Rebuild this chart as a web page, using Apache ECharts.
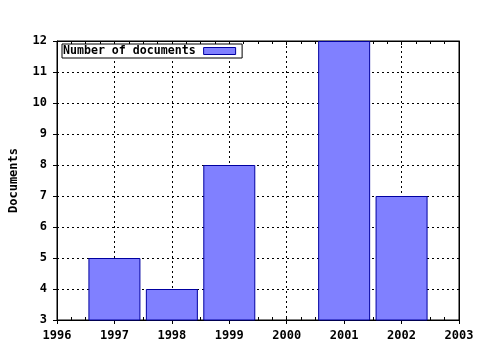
<!DOCTYPE html>
<html><head><meta charset="utf-8">
<script src="https://cdn.jsdelivr.net/npm/echarts@6/dist/echarts.min.js"></script>
<style>html,body{margin:0;padding:0;background:#fff}#c{width:480px;height:350px}</style>
</head><body><div id="c"></div>
<script>
const years = [1997, 1998, 1999, 2001, 2002];
const documents = [5, 4, 8, 12, 7];
const seriesName = 'Number of documents';
const yTitle = 'Documents';

const FONT = 'DejaVu Sans Mono';
const chart = echarts.init(document.getElementById('c'), null, {renderer: 'canvas'});
const dotted = {color: '#000', width: 1, type: [2, 3]};
const blackLine = {show: true, onZero: false, lineStyle: {color: '#000', width: 1}};
chart.setOption({
  animation: false,
  backgroundColor: '#fff',
  grid: {left: 57, right: 21, top: 41, bottom: 30, show: true, borderColor: '#000', borderWidth: 1,
    containLabel: false, outerBoundsMode: 'none'},
  legend: {
    left: 62, top: 44, orient: 'horizontal', align: 'right',
    itemWidth: 32, itemHeight: 7, itemGap: 0,
    padding: [1, 6, 1, 1],
    borderColor: '#000', borderWidth: 1, backgroundColor: '#fff',
    itemStyle: {borderWidth: 1, borderColor: '#0000a0', color: '#8080ff'},
    textStyle: {fontFamily: FONT, fontWeight: 'bold', fontSize: 11.6, color: '#000', padding: [0, 3, 0, 0]},
    data: [{name: seriesName, icon: 'rect'}]
  },
  xAxis: [{
    type: 'value', min: 1996, max: 2003, interval: 1, position: 'bottom',
    axisLine: blackLine,
    axisTick: {show: true, inside: false, length: 4, lineStyle: {color: '#000'}},
    splitLine: {show: true, lineStyle: dotted},
    axisLabel: {fontFamily: FONT, fontWeight: 'bold', fontSize: 12, color: '#000', margin: 10,
      formatter: v => String(v)}
  }, {
    type: 'value', min: 1996, max: 2003, interval: 1, position: 'top',
    axisLine: blackLine,
    axisTick: {show: true, inside: true, length: 4, lineStyle: {color: '#000'}},
    minorTick: {show: true, splitNumber: 4, length: 3, lineStyle: {color: '#000'}},
    splitLine: {show: false},
    axisLabel: {show: false}
  }, {
    type: 'value', min: 1996, max: 2003, interval: 1, position: 'bottom',
    axisLine: {show: false},
    axisTick: {show: true, inside: true, length: 3, lineStyle: {color: '#000'}},
    minorTick: {show: true, splitNumber: 4, length: 3, lineStyle: {color: '#000'}},
    splitLine: {show: false},
    axisLabel: {show: false}
  }],
  yAxis: [{
    type: 'value', min: 3, max: 12, interval: 1,
    name: yTitle, nameLocation: 'middle', nameGap: 37, nameRotate: 90,
    nameTextStyle: {fontFamily: FONT, fontWeight: 'bold', fontSize: 12, color: '#000'},
    axisLine: blackLine,
    axisTick: {show: true, inside: false, length: 4, lineStyle: {color: '#000'}},
    splitLine: {show: true, lineStyle: dotted},
    axisLabel: {fontFamily: FONT, fontWeight: 'bold', fontSize: 12, color: '#000', margin: 10}
  }, {
    type: 'value', min: 3, max: 12, interval: 1, position: 'right',
    axisLine: blackLine,
    axisTick: {show: false}, splitLine: {show: false}, axisLabel: {show: false}
  }],
  series: [{
    name: seriesName, type: 'bar', xAxisIndex: 0, yAxisIndex: 0,
    barWidth: 52,
    itemStyle: {color: '#8080ff', borderColor: '#0000a0', borderWidth: 1},
    data: years.map((y, i) => [y, documents[i]])
  }]
});
</script></body></html>
